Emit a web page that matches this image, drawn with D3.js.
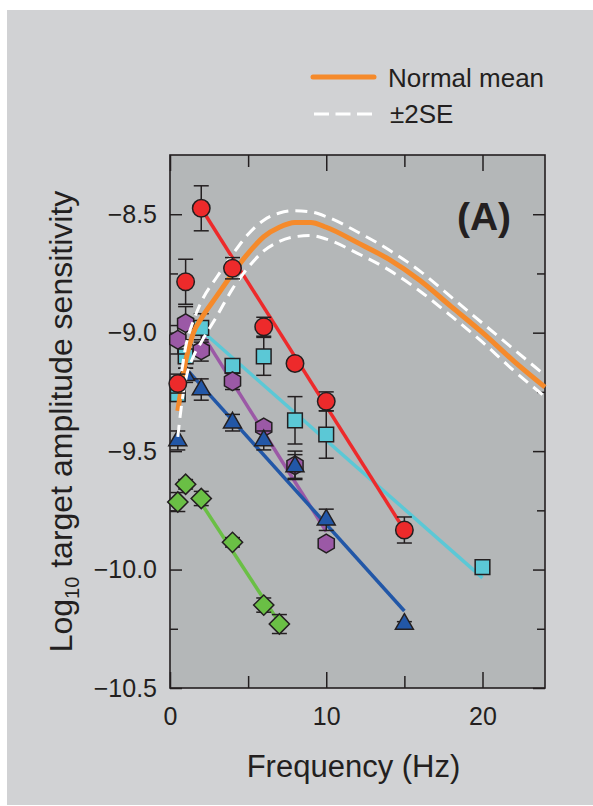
<!DOCTYPE html>
<html>
<head>
<meta charset="utf-8">
<script src="https://cdn.jsdelivr.net/npm/d3@7"></script>
<style>
  body { margin: 0; background: #fff; }
  svg text { font-family: "Liberation Sans", Arial, sans-serif; fill: #231f20; }
</style>
</head>
<body>
<div class="chart"></div>
<script>
// per-group data: frequency (Hz), log10 sensitivity, error (+/-)
const redF = [0.5, 1, 2, 4, 6, 8, 10, 15];
const redV = [-9.215, -8.785, -8.475, -8.728, -8.975, -9.13, -9.29, -9.833];
const redE = [0.04, 0.095, 0.095, 0.045, 0.04, 0.02, 0.04, 0.055];

const cyanF = [0.5, 1, 2, 4, 6, 8, 10, 20];
const cyanV = [-9.26, -9.1, -8.98, -9.14, -9.1, -9.37, -9.43, -9.99];
const cyanE = [0.03, 0.05, 0.06, 0.02, 0.08, 0.1, 0.1, 0.01];

const purpleF = [0.5, 1, 2, 4, 6, 8, 10];
const purpleV = [-9.03, -8.96, -9.075, -9.205, -9.4, -9.56, -9.89];
const purpleE = [0.06, 0.07, 0.045, 0.035, 0.02, 0.06, 0.02];

const blueF = [0.5, 1, 2, 4, 6, 8, 10, 15];
const blueV = [-9.455, -9.18, -9.24, -9.38, -9.455, -9.565, -9.79, -10.23];
const blueE = [0.04, 0.03, 0.045, 0.035, 0.04, 0.05, 0.045, 0.01];

const greenF = [0.5, 1, 2, 4, 6, 7];
const greenV = [-9.715, -9.64, -9.70, -9.885, -10.15, -10.23];
const greenE = [0.04, 0.02, 0.03, 0.02, 0.03, 0.04];

// straight-line fits, [start, end]
const redFitF = [2, 15], redFitV = [-8.475, -9.833];
const cyanFitF = [2, 20], cyanFitV = [-8.99, -10.035];
const purpleFitF = [2, 10], purpleFitV = [-9.0, -9.84];
const blueFitF = [1, 15], blueFitV = [-9.15, -10.175];
const greenFitF = [2, 7], greenFitV = [-9.72, -10.225];

// normal mean and +/-2SE
const normF =     [0.5, 0.75, 1, 1.5, 2, 3, 4, 5, 6, 7, 8, 9, 10, 12, 14, 16, 18, 20, 22, 24];
const normMean =  [-9.33, -9.22, -9.12, -9.0, -8.94, -8.845, -8.75, -8.665, -8.595, -8.555, -8.535, -8.535, -8.555, -8.62, -8.69, -8.78, -8.89, -9.0, -9.12, -9.23];
const normUpper = [-9.24, -9.16, -9.06, -8.95, -8.87, -8.765, -8.67, -8.585, -8.525, -8.495, -8.485, -8.49, -8.51, -8.575, -8.65, -8.74, -8.85, -8.96, -9.07, -9.18];
const normLower = [-9.44, -9.3, -9.2, -9.1, -9.04, -8.93, -8.815, -8.725, -8.655, -8.615, -8.595, -8.59, -8.605, -8.665, -8.735, -8.825, -8.93, -9.04, -9.16, -9.27];

const yMajor = [-10.5, -10, -9.5, -9, -8.5];
const yMinor = [-10.25, -9.75, -9.25, -8.75];
const xMajor = [0, 10, 20];
const xMinor = [5, 15];

const width = 593, height = 806;
const plotL = 170, plotR = 545, plotT = 155, plotB = 688;
const ink = '#231f20';

const svg = d3.select('.chart').append('svg')
  .attr('width', width)
  .attr('height', height);

// panel backgrounds
svg.append('rect')
  .attr('x', 7).attr('y', 10)
  .attr('width', width - 7).attr('height', 795)
  .attr('fill', '#d1d2d4');
svg.append('rect')
  .attr('x', plotL).attr('y', plotT)
  .attr('width', plotR - plotL).attr('height', plotB - plotT)
  .attr('fill', '#b4b7b8');

const x = d3.scaleLinear().domain([0, 24]).range([plotL, plotR]);
const y = d3.scaleLinear().domain([-10.5, -8.25]).range([plotB, plotT]);

// axes, ticks point inward
function axisGroup(axis, tx, ty) {
  const g = svg.append('g').attr('transform', `translate(${tx},${ty})`).call(axis);
  g.select('.domain').remove();
  g.selectAll('line').attr('stroke', ink).attr('stroke-width', 1.5);
  g.selectAll('text').attr('font-size', 25).attr('fill', ink);
  return g;
}
axisGroup(d3.axisLeft(y).tickValues(yMajor).tickFormat(d3.format('.1f')).tickSize(-12).tickPadding(13), plotL, 0);
axisGroup(d3.axisLeft(y).tickValues(yMinor).tickFormat('').tickSize(-8), plotL, 0);
axisGroup(d3.axisRight(y).tickValues(yMajor).tickFormat('').tickSize(-12), plotR, 0);
axisGroup(d3.axisRight(y).tickValues(yMinor).tickFormat('').tickSize(-8), plotR, 0);
axisGroup(d3.axisBottom(x).tickValues(xMajor).tickFormat(d3.format('d')).tickSize(-16).tickPadding(19), 0, plotB);
axisGroup(d3.axisBottom(x).tickValues(xMinor).tickFormat('').tickSize(-12), 0, plotB);
axisGroup(d3.axisTop(x).tickValues(xMajor).tickFormat('').tickSize(-16), 0, plotT);
axisGroup(d3.axisTop(x).tickValues(xMinor).tickFormat('').tickSize(-12), 0, plotT);

svg.append('rect')
  .attr('x', plotL).attr('y', plotT)
  .attr('width', plotR - plotL).attr('height', plotB - plotT)
  .attr('fill', 'none').attr('stroke', ink).attr('stroke-width', 1.6);

// axis titles
svg.append('text')
  .attr('x', (plotL + plotR) / 2 - 4).attr('y', 777)
  .attr('text-anchor', 'middle')
  .attr('font-size', 31)
  .text('Frequency (Hz)');

const yTitle = svg.append('text')
  .attr('transform', `translate(72,${(plotT + plotB) / 2}) rotate(-90)`)
  .attr('text-anchor', 'middle')
  .attr('font-size', 32);
yTitle.append('tspan').text('Log');
yTitle.append('tspan').attr('font-size', 20).attr('dy', 7).text('10');
yTitle.append('tspan').attr('dy', -7).text(' target amplitude sensitivity');

svg.append('text')
  .attr('x', 484).attr('y', 230)
  .attr('text-anchor', 'middle')
  .attr('font-size', 39)
  .attr('font-weight', 'bold')
  .text('(A)');

// fit lines
const fits = [
  { f: cyanFitF, v: cyanFitV, color: '#5bc8d6' },
  { f: purpleFitF, v: purpleFitV, color: '#9b59a6' },
  { f: blueFitF, v: blueFitV, color: '#2257a7' },
  { f: greenFitF, v: greenFitV, color: '#6abf45' },
  { f: redFitF, v: redFitV, color: '#ed2a2b' }
];
const line = d3.line().x(d => x(d[0])).y(d => y(d[1]));
svg.append('g').selectAll('path')
  .data(fits)
  .enter()
  .append('path')
    .attr('d', d => line(d3.zip(d.f, d.v)))
    .attr('fill', 'none')
    .attr('stroke', d => d.color)
    .attr('stroke-width', 3.5);

// hexagon symbol (pointy top)
const symbolHexagon = {
  draw(context, size) {
    const r = Math.sqrt(size / (1.5 * Math.sqrt(3)));
    for (let i = 0; i < 6; i++) {
      const a = Math.PI / 3 * i - Math.PI / 2;
      if (i === 0) context.moveTo(r * Math.cos(a), r * Math.sin(a));
      else context.lineTo(r * Math.cos(a), r * Math.sin(a));
    }
    context.closePath();
  }
};

function drawGroup(fs, vs, es, color, symbol, size, rotate) {
  const pts = d3.zip(fs, vs, es);
  const g = svg.append('g');
  const eb = g.selectAll('.eb').data(pts).enter().append('g')
    .attr('stroke', ink).attr('stroke-width', 1.5);
  eb.append('line')
    .attr('x1', d => x(d[0])).attr('x2', d => x(d[0]))
    .attr('y1', d => y(d[1] - d[2])).attr('y2', d => y(d[1] + d[2]));
  eb.append('line')
    .attr('x1', d => x(d[0]) - 7.5).attr('x2', d => x(d[0]) + 7.5)
    .attr('y1', d => y(d[1] + d[2])).attr('y2', d => y(d[1] + d[2]));
  eb.append('line')
    .attr('x1', d => x(d[0]) - 7.5).attr('x2', d => x(d[0]) + 7.5)
    .attr('y1', d => y(d[1] - d[2])).attr('y2', d => y(d[1] - d[2]));
  g.selectAll('.mk').data(pts).enter().append('path')
    .attr('transform', d => `translate(${x(d[0])},${y(d[1])}) rotate(${rotate})`)
    .attr('d', d3.symbol().type(symbol).size(size))
    .attr('fill', color)
    .attr('stroke', ink)
    .attr('stroke-width', 1.5);
}

drawGroup(cyanF, cyanV, cyanE, '#5bc8d6', d3.symbolSquare, 215, 0);
drawGroup(purpleF, purpleV, purpleE, '#9b59a6', symbolHexagon, 225, 0);
drawGroup(blueF, blueV, blueE, '#2257a7', d3.symbolTriangle, 140, 0);
drawGroup(greenF, greenV, greenE, '#6abf45', d3.symbolSquare, 205, 45);

// normal mean and SE curves
const curve = d3.line().curve(d3.curveMonotoneX).x(d => x(d[0])).y(d => y(d[1]));
svg.append('path')
  .attr('d', curve(d3.zip(normF, normMean)))
  .attr('fill', 'none').attr('stroke', '#f58a2b').attr('stroke-width', 5);
[normUpper, normLower].forEach(arr => {
  svg.append('path')
    .attr('d', curve(d3.zip(normF, arr)))
    .attr('fill', 'none').attr('stroke', '#fff')
    .attr('stroke-width', 3).attr('stroke-dasharray', '12,7');
});

drawGroup(redF, redV, redE, '#ed2a2b', d3.symbolCircle, 240, 0);

// legend
svg.append('line')
  .attr('x1', 313).attr('x2', 374).attr('y1', 77).attr('y2', 77)
  .attr('stroke', '#f58a2b').attr('stroke-width', 5).attr('stroke-linecap', 'round');
svg.append('line')
  .attr('x1', 314).attr('x2', 372).attr('y1', 114).attr('y2', 114)
  .attr('stroke', '#fff').attr('stroke-width', 3).attr('stroke-dasharray', '15,6.5');
svg.append('text').attr('x', 388).attr('y', 87).attr('font-size', 26).text('Normal mean');
svg.append('text').attr('x', 390).attr('y', 123).attr('font-size', 26).text('±2SE');
</script>
</body>
</html>
